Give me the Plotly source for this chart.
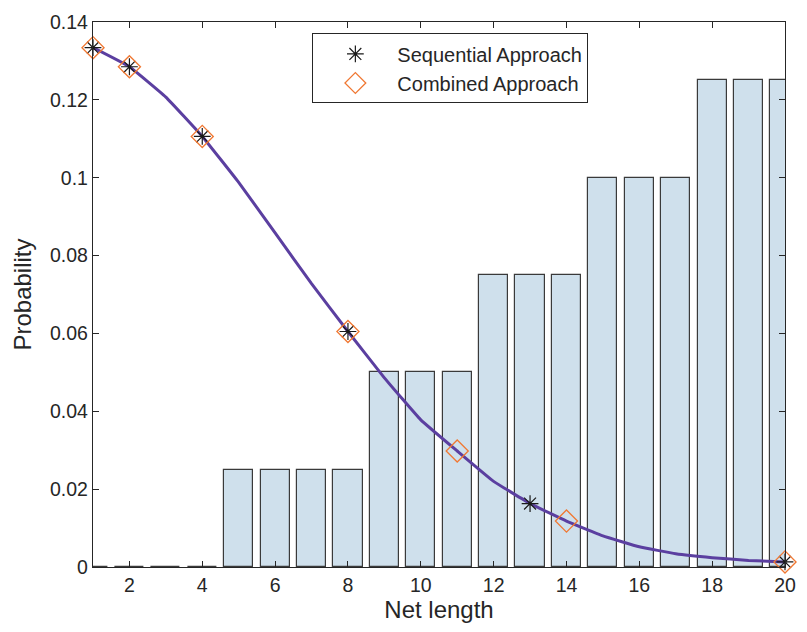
import plotly.graph_objects as go

# Net lengths and probability distribution
net_length = list(range(1, 21))
bar_prob = [0, 0, 0, 0,
            0.025, 0.025, 0.025, 0.025,
            0.05, 0.05, 0.05,
            0.075, 0.075, 0.075,
            0.1, 0.1, 0.1,
            0.125, 0.125, 0.125]

curve_prob = [0.1334, 0.1285, 0.1207, 0.1106, 0.0988, 0.0858, 0.0728, 0.0605,
              0.0486, 0.0378, 0.0298, 0.0220, 0.0163, 0.0118, 0.0080, 0.0052,
              0.0034, 0.0024, 0.0017, 0.0013]

seq_x = [1, 2, 4, 8, 13, 20]
comb_x = [1, 2, 4, 8, 11, 14, 20]
seq_y = [curve_prob[x - 1] for x in seq_x]
comb_y = [curve_prob[x - 1] for x in comb_x]

x_ticks = [2, 4, 6, 8, 10, 12, 14, 16, 18, 20]
y_ticks = [0, 0.02, 0.04, 0.06, 0.08, 0.1, 0.12, 0.14]
y_labels = ["0", "0.02", "0.04", "0.06", "0.08", "0.1", "0.12", "0.14"]

FONT = "Liberation Sans, Arial, sans-serif"
AX = "#262626"

fig = go.Figure()

fig.add_trace(go.Bar(
    x=net_length, y=bar_prob, width=0.8,
    marker=dict(color="#cfe0ec", line=dict(color="#3a3a3a", width=1.2)),
    showlegend=False, hoverinfo="skip",
))

fig.add_trace(go.Scatter(
    x=net_length, y=curve_prob, mode="lines",
    line=dict(color="#5b3fa0", width=3, shape="spline", smoothing=0.3),
    showlegend=False,
))

fig.add_trace(go.Scatter(
    x=seq_x, y=seq_y, mode="markers", name="Sequential Approach",
    marker=dict(symbol="asterisk-open", size=14, color="#1a1a1a",
                line=dict(color="#1a1a1a", width=1.2)),
    cliponaxis=False,
))

fig.add_trace(go.Scatter(
    x=comb_x, y=comb_y, mode="markers", name="Combined Approach",
    marker=dict(symbol="diamond-open", size=17, color="#f07833",
                line=dict(color="#f07833", width=1.3)),
    cliponaxis=False,
))

fig.update_layout(
    width=807, height=632,
    margin=dict(l=93, r=11, t=14, b=65),
    paper_bgcolor="white", plot_bgcolor="white",
    font=dict(family=FONT, color=AX, size=19),
    bargap=0,
    legend=dict(
        x=0.317, y=0.979, xanchor="left", yanchor="top",
        bgcolor="white", bordercolor=AX, borderwidth=1,
        font=dict(size=20, family=FONT, color=AX),
        itemwidth=74, tracegroupgap=2,
    ),
    xaxis=dict(
        range=[1, 20], tickvals=x_ticks, ticks="inside", ticklen=6,
        tickcolor=AX, showline=True, linecolor=AX, linewidth=1.3, mirror="ticks",
        showgrid=False, zeroline=False,
        tickfont=dict(size=19.5, family=FONT, color=AX),
        title=dict(text="Net length", font=dict(size=24, family=FONT, color=AX), standoff=6),
    ),
    yaxis=dict(
        range=[0, 0.14], tickvals=y_ticks, ticktext=y_labels, ticks="inside", ticklen=6,
        tickcolor=AX, showline=True, linecolor=AX, linewidth=1.3, mirror="ticks",
        showgrid=False, zeroline=False,
        tickfont=dict(size=19.5, family=FONT, color=AX),
        title=dict(text="Probability", font=dict(size=24, family=FONT, color=AX), standoff=11),
    ),
)

fig.write_html("out.html")
